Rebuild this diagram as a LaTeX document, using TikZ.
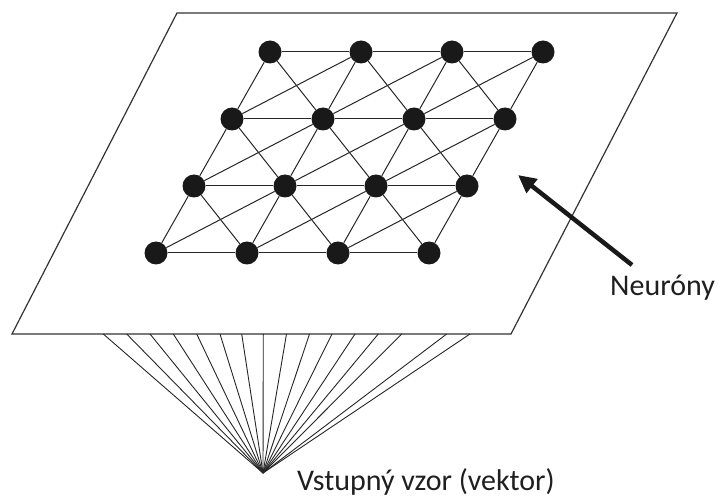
\documentclass[tikz,border=0pt]{standalone}
\usepackage{fontspec}
\setmainfont{Carlito}
\usetikzlibrary{arrows.meta}
\begin{document}
\begin{tikzpicture}[x=1pt,y=-1pt,
  neuron/.style={circle,fill=black!90,inner sep=0pt,minimum size=23pt},
  link/.style={draw=black!85,line width=1pt},
  frame/.style={draw=black!80,line width=1.2pt,line join=miter},
  ray/.style={draw=black!85,line width=0.9pt},
  pointer/.style={draw=black!90,line width=4.5pt,-{Triangle[length=18pt,width=17pt]}},
  caption/.style={font=\fontsize{30}{36}\selectfont,text=black!88,inner sep=0pt}]
\useasboundingbox (0,0) rectangle (718,497);

% the plane holding the map
\coordinate (pTL) at (177,13);
\coordinate (pTR) at (677,13);
\coordinate (pBR) at (511,334);
\coordinate (pBL) at (12,334);
\draw[frame] (pTL) -- (pTR) -- (pBR) -- (pBL) -- cycle;

% input vector fanning out to the plane
\coordinate (apex) at (263,473);
\foreach \k/\x in {0/103.3,1/126.7,2/150,3/173.3,4/196.7,5/220,6/241.7,7/263.3,
                   8/286.5,9/309.5,10/332,11/355,12/378.3,13/401.7,14/446.7,15/470}
  \coordinate (f\k) at (\x,334);
\foreach \k in {0,...,15}
  \draw[ray] (apex) -- (f\k);

% 4x4 lattice of neurons
\foreach \j in {0,...,3}
  \foreach \i in {0,...,3}
    \node[neuron] (n\i\j) at ({156+91*\i+38*\j},{253-67*\j}) {};

% lattice connections
\foreach \j in {0,...,3}
  \foreach \i in {0,1,2}{
    \pgfmathtruncatemacro{\ni}{\i+1}
    \draw[link] (n\i\j) -- (n\ni\j);
  }
\foreach \j in {0,1,2}
  \foreach \i in {0,...,3}{
    \pgfmathtruncatemacro{\nj}{\j+1}
    \draw[link] (n\i\j) -- (n\i\nj);
  }
\foreach \j in {0,1,2}
  \foreach \i in {0,1,2}{
    \pgfmathtruncatemacro{\ni}{\i+1}
    \pgfmathtruncatemacro{\nj}{\j+1}
    \draw[link] (n\i\j) -- (n\ni\nj);
    \draw[link] (n\i\nj) -- (n\ni\j);
  }

% labels and pointer
\node[caption,anchor=base west] (neur) at (610,295) {Neuróny};
\coordinate (tail) at (632,265);
\coordinate (tip) at (518,175);
\draw[pointer] (tail) -- (tip);
\node[caption,anchor=base west] (input) at (297,490) {Vstupný vzor (vektor)};
\end{tikzpicture}
\end{document}
